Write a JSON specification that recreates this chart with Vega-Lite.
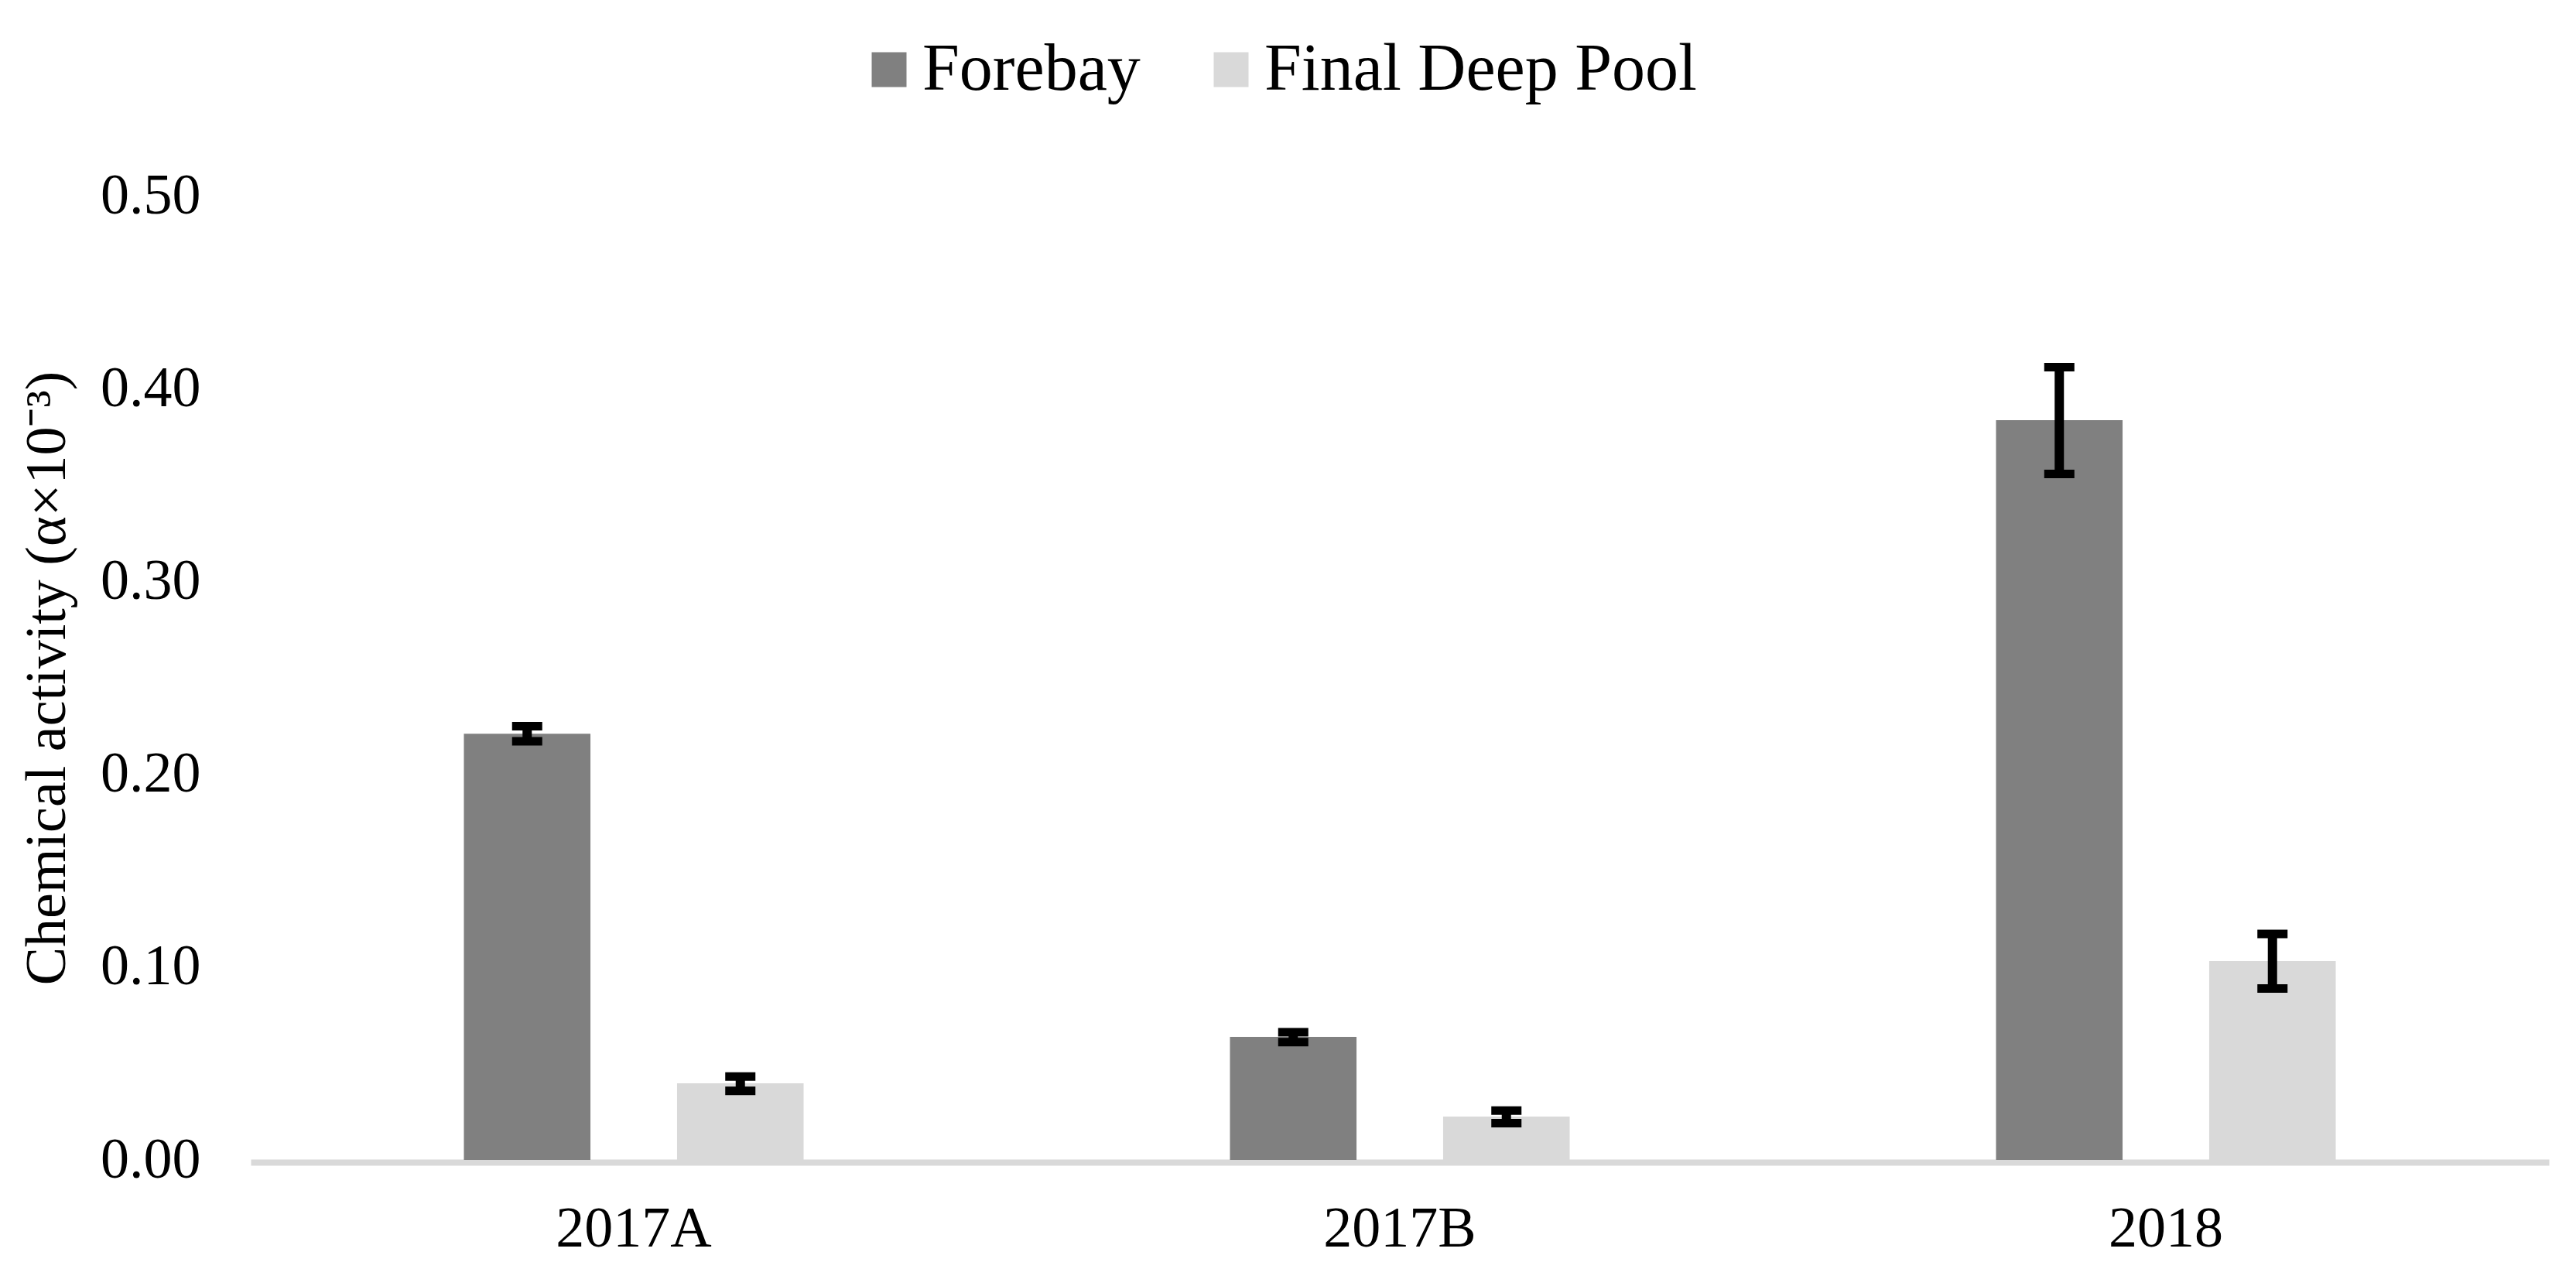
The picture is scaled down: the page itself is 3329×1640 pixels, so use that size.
{
  "$schema": "https://vega.github.io/schema/vega-lite/v6.json",
  "autosize": "none",
  "padding": {"left": 324, "top": 253, "right": 35, "bottom": 141},
  "width": 2970,
  "height": 1246,
  "background": "white",
  "config": {
    "font": "Liberation Serif",
    "view": {"stroke": null},
    "axis": {"labelFont": "Liberation Serif", "titleFont": "Liberation Serif", "labelColor": "black", "titleColor": "black", "grid": false, "ticks": false, "tickSize": 0, "labelLimit": 0},
    "legend": {"labelFont": "Liberation Serif", "labelLimit": 0}
  },
  "data": {
    "values": [
      {"site": "2017A", "group": "Forebay", "value": 0.221, "lower": 0.2171, "upper": 0.2249},
      {"site": "2017A", "group": "Final Deep Pool", "value": 0.0397, "lower": 0.0358, "upper": 0.0432},
      {"site": "2017B", "group": "Forebay", "value": 0.0638, "lower": 0.0611, "upper": 0.0662},
      {"site": "2017B", "group": "Final Deep Pool", "value": 0.0225, "lower": 0.0191, "upper": 0.0256},
      {"site": "2018", "group": "Forebay", "value": 0.3836, "lower": 0.3557, "upper": 0.4111},
      {"site": "2018", "group": "Final Deep Pool", "value": 0.1031, "lower": 0.0889, "upper": 0.1172}
    ]
  },
  "encoding": {
    "x": {
      "field": "site", "type": "nominal", "sort": ["2017A", "2017B", "2018"],
      "scale": {"paddingInner": 0, "paddingOuter": 0},
      "axis": {"title": null, "labelAngle": 0, "labelFontSize": 74, "labelPadding": 50, "labelLimit": 0, "domainColor": "#d9d9d9", "domainWidth": 8, "offset": 3}
    },
    "xOffset": {
      "field": "group", "type": "nominal",
      "scale": {"domain": ["Forebay", "Final Deep Pool"], "paddingInner": 0.4063, "paddingOuter": 1.04}
    }
  },
  "layer": [
    {
      "mark": {"type": "bar"},
      "encoding": {
        "y": {
          "field": "value", "type": "quantitative",
          "scale": {"domain": [0, 0.5], "nice": false},
          "axis": {"values": [0, 0.1, 0.2, 0.3, 0.4, 0.5], "format": ".2f", "labelFontSize": 74, "labelPadding": 65, "domain": false, "title": "Chemical activity (α×10⁻³)", "titleFontSize": 74, "titleFontWeight": "normal", "titlePadding": 30}
        },
        "color": {
          "field": "group", "type": "nominal",
          "scale": {"domain": ["Forebay", "Final Deep Pool"], "range": ["#808080", "#d9d9d9"]},
          "legend": {"title": null, "orient": "none", "direction": "horizontal", "legendX": 782, "legendY": -206, "symbolType": "square", "symbolSize": 2025, "symbolStrokeWidth": 0, "symbolOpacity": 1, "labelFontSize": 86, "labelColor": "black", "labelOffset": 0, "labelLimit": 0, "columnPadding": 74, "padding": 0}
        }
      }
    },
    {
      "mark": {"type": "rule", "color": "black", "strokeWidth": 12, "opacity": 1},
      "encoding": {
        "y": {"field": "lower", "type": "quantitative"},
        "y2": {"field": "upper"}
      }
    },
    {
      "mark": {"type": "tick", "color": "black", "size": 39, "thickness": 11, "orient": "horizontal", "opacity": 1},
      "encoding": {"y": {"field": "lower", "type": "quantitative"}}
    },
    {
      "mark": {"type": "tick", "color": "black", "size": 39, "thickness": 11, "orient": "horizontal", "opacity": 1},
      "encoding": {"y": {"field": "upper", "type": "quantitative"}}
    }
  ]
}
